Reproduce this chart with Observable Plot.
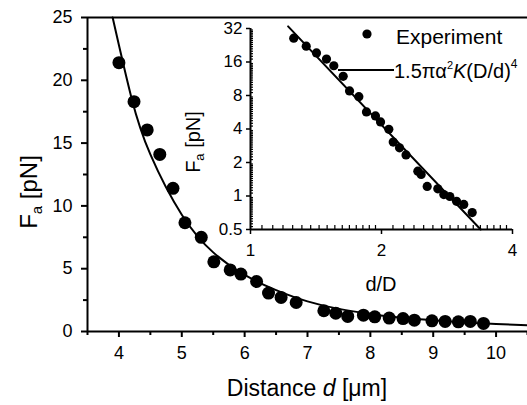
<!DOCTYPE html>
<html><head><meta charset="utf-8">
<script src="https://cdn.jsdelivr.net/npm/d3@7"></script>
<script src="https://cdn.jsdelivr.net/npm/@observablehq/plot@0.6"></script>
<style>
body{margin:0;background:white;}
#wrap{position:relative;width:527px;height:405px;overflow:hidden;}
#wrap > div{position:absolute;}
</style></head><body>
<div id="wrap"><div id="main" style="left:0;top:0"></div><div id="inset" style="left:180px;top:0"></div></div>
<script>
// Main panel: measured force vs distance
const distance = [4.0,4.24,4.45,4.65,4.86,5.05,5.31,5.51,5.77,5.94,6.19,6.38,6.58,6.82,7.26,7.45,7.64,7.89,8.07,8.30,8.52,8.70,8.98,9.19,9.40,9.59,9.80];
const force    = [21.4,18.3,16.05,14.1,11.4,8.66,7.5,5.55,4.9,4.57,3.98,3.06,2.71,2.31,1.65,1.46,1.2,1.3,1.17,1.07,1.03,0.9,0.85,0.8,0.77,0.8,0.64];
// Main panel: theory curve
const fitDistance = [3.9,4.2,4.5,5,5.5,6,6.5,7,7.5,8,8.5,9,9.5,10,10.5];
const fitForce    = [25,18.6,14.1,9.3,6.3,4.5,3.3,2.4,1.8,1.4,1.1,0.9,0.72,0.6,0.5];
const mainXTicks = [4,5,6,7,8,9,10];
const mainXMinor = [3.5,4.5,5.5,6.5,7.5,8.5,9.5,10.5];
const mainYTicks = [0,5,10,15,20,25];
const mainYMinor = [2.5,7.5,12.5,17.5,22.5];

// Inset: log-log
const ratio    = [1.257,1.343,1.418,1.495,1.554,1.633,1.689,1.774,1.847,1.937,1.990,2.079,2.128,2.20,2.277,2.424,2.467,2.547,2.694,2.781,2.871,2.975,3.091,3.232];
const forceLog = [26.2,22.2,19.3,17.0,14.8,11.9,8.8,7.8,5.7,5.24,4.63,3.97,3.05,2.71,2.34,1.67,1.56,1.22,1.16,1.03,0.99,0.895,0.84,0.71];
const fitRatio = [1.22, 3.38];
const fitForceLog = [33.4, 0.5];
const insetXTicks = [1,2,4];
const insetYTicks = [0.5,1,2,4,8,16,32];
const insetYLabels = ["0.5","1","2","4","8","16","32"];

const FONT = '"Liberation Sans", Arial, Helvetica, sans-serif';

const points = distance.map((d,i)=>({d, f: force[i]}));
const fit = fitDistance.map((d,i)=>({d, f: fitForce[i]}));
const insetPts = ratio.map((r,i)=>({r, f: forceLog[i]}));
const insetFit = fitRatio.map((r,i)=>({r, f: fitForceLog[i]}));
const yLab = insetYTicks.map((v,i)=>({v, t: insetYLabels[i]}));

const minorLog = (bases) => bases.flatMap(b => d3.range(1,16).map(k => b*(1+k/16)));
const insetXMinor = minorLog([1,2]);
const insetYMinor = minorLog([0.5,1,2,4,8,16]);

const main = Plot.plot({
  width: 527, height: 405,
  marginLeft: 87, marginRight: 0, marginTop: 17, marginBottom: 74,
  x: {domain: [3.5, 10.5]},
  y: {domain: [0, 25]},
  style: {fontFamily: FONT, fontSize: "18px", color: "black", background: "white"},
  marks: [
    Plot.axisX({ticks: mainXTicks, tickSize: 6, tickPadding: 9, label: null, strokeWidth: 2, tickFormat: d => String(d)}),
    Plot.axisX({ticks: mainXMinor, tickSize: 4, label: null, strokeWidth: 2, tickFormat: () => ""}),
    Plot.axisY({ticks: mainYTicks, tickSize: 6, tickPadding: 9, label: null, strokeWidth: 2, tickFormat: d => String(d)}),
    Plot.axisY({ticks: mainYMinor, tickSize: 4, label: null, strokeWidth: 2, tickFormat: () => ""}),
    Plot.ruleX([3.5], {strokeWidth: 2}),
    Plot.ruleY([0, 25], {strokeWidth: 2}),
    Plot.line(fit, {x: "d", y: "f", curve: "natural", strokeWidth: 2}),
    Plot.dot(points, {x: "d", y: "f", r: 6.5, fill: "black"})
  ]
});
document.getElementById("main").appendChild(main);

const inset = Plot.plot({
  width: 347, height: 300,
  marginLeft: 70, marginRight: 15, marginTop: 28, marginBottom: 71,
  x: {type: "log", domain: [1, 4]},
  y: {type: "log", domain: [0.5, 32]},
  style: {fontFamily: FONT, fontSize: "17px", color: "black", background: "transparent", overflow: "visible"},
  marks: [
    Plot.axisX({ticks: insetXTicks, tickSize: 5, tickPadding: 9, label: null, strokeWidth: 1.5, tickFormat: d => String(d)}),
    Plot.axisX({ticks: insetXMinor, tickSize: -4, label: null, strokeWidth: 1.2, tickFormat: () => ""}),
    Plot.axisY({ticks: insetYTicks, tickSize: 4, label: null, strokeWidth: 1.5, tickFormat: () => ""}),
    Plot.text(yLab, {y: "v", text: "t", frameAnchor: "left", dx: -8, textAnchor: "end", fontSize: 17}),
    Plot.axisY({ticks: insetYMinor, tickSize: -3, label: null, strokeWidth: 1.2, tickFormat: () => ""}),
    Plot.ruleX([1], {strokeWidth: 2}),
    Plot.ruleY([0.5], {strokeWidth: 2}),
    Plot.line(insetFit, {x: "r", y: "f", strokeWidth: 2}),
    Plot.dot(insetPts, {x: "r", y: "f", r: 4.6, fill: "black"})
  ]
});
document.getElementById("inset").appendChild(inset);

// Axis labels for main panel
const ms = d3.select(main);
const xl = ms.append("text").attr("x", 307).attr("y", 396).attr("text-anchor", "middle")
  .attr("font-family", FONT).attr("font-size", 23).attr("fill", "black");
xl.append("tspan").text("Distance ");
xl.append("tspan").attr("font-style", "italic").text("d");
xl.append("tspan").text(" [\u03bcm]");
const yl = ms.append("text").attr("transform", "translate(37,192) rotate(-90)").attr("text-anchor", "middle")
  .attr("font-family", FONT).attr("font-size", 24).attr("fill", "black");
yl.append("tspan").text("F");
yl.append("tspan").attr("dy", 5).attr("font-size", 15).text("a");
yl.append("tspan").attr("dy", -5).text(" [pN]");

// Inset labels & legend
const is = d3.select(inset);
is.append("text").attr("x", 201).attr("y", 291).attr("text-anchor", "middle")
  .attr("font-family", FONT).attr("font-size", 20).attr("fill", "black").text("d/D");
const iyl = is.append("text").attr("transform", "translate(20,142) rotate(-90)").attr("text-anchor", "middle")
  .attr("font-family", FONT).attr("font-size", 20).attr("fill", "black");
iyl.append("tspan").text("F");
iyl.append("tspan").attr("dy", 4).attr("font-size", 13).text("a");
iyl.append("tspan").attr("dy", -4).text(" [pN]");

is.append("circle").attr("cx", 187).attr("cy", 34).attr("r", 4.6).attr("fill", "black");
is.append("text").attr("x", 216).attr("y", 44).attr("text-anchor", "start").attr("font-family", FONT).attr("font-size", 21).attr("fill", "black").text("Experiment");
is.append("line").attr("x1", 158).attr("x2", 214).attr("y1", 70).attr("y2", 70).attr("stroke", "black").attr("stroke-width", 2);
const lf = is.append("text").attr("x", 214).attr("y", 78).attr("text-anchor", "start").attr("font-family", FONT).attr("font-size", 20).attr("fill", "black");
lf.append("tspan").text("1.5\u03c0\u03b1");
lf.append("tspan").attr("dy", -9).attr("font-size", 11).text("2");
lf.append("tspan").attr("dy", 9).attr("font-style", "italic").text("K");
lf.append("tspan").text("(D/d)");
lf.append("tspan").attr("dy", -10).attr("font-size", 12).text("4");
</script>
</body></html>
